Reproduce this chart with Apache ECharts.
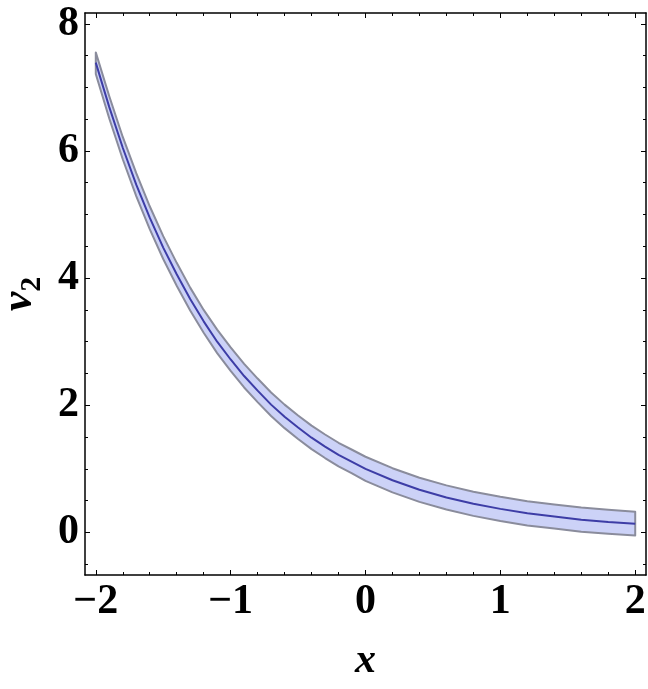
<!DOCTYPE html>
<html>
<head>
<meta charset="utf-8">
<script src="https://cdn.jsdelivr.net/npm/echarts@6/dist/echarts.min.js"></script>
<style>
  html, body { margin: 0; padding: 0; background: #fff; }
  #chart { width: 648px; height: 689px; }
</style>
</head>
<body>
<div id="chart"></div>
<script>
// values
const xs = [-2.0, -1.9, -1.8, -1.7, -1.6, -1.5, -1.4, -1.3, -1.2, -1.1, -1.0, -0.9, -0.8, -0.7, -0.6, -0.5, -0.4, -0.3, -0.2, -0.1,
  0, 0.2, 0.4, 0.6, 0.8, 1.0, 1.2, 1.4, 1.6, 1.8, 2.0];
const center = [7.39, 6.69, 6.05, 5.47, 4.95, 4.48, 4.06, 3.67, 3.32, 3.00, 2.72, 2.46, 2.23, 2.01, 1.82, 1.65, 1.49, 1.35, 1.22, 1.11,
  1.00, 0.82, 0.67, 0.55, 0.45, 0.37, 0.30, 0.25, 0.20, 0.165, 0.135];
const upper = [7.55, 6.86, 6.22, 5.65, 5.13, 4.66, 4.24, 3.85, 3.50, 3.19, 2.91, 2.65, 2.42, 2.20, 2.01, 1.84, 1.68, 1.54, 1.41, 1.30,
  1.19, 1.01, 0.86, 0.74, 0.64, 0.56, 0.49, 0.44, 0.39, 0.355, 0.325];
const lower = [7.21, 6.51, 5.87, 5.29, 4.77, 4.30, 3.88, 3.49, 3.14, 2.82, 2.54, 2.28, 2.05, 1.83, 1.64, 1.47, 1.31, 1.17, 1.04, 0.93,
  0.81, 0.63, 0.48, 0.36, 0.26, 0.18, 0.11, 0.06, 0.01, -0.02, -0.05];

const xTicks = [-2, -1, 0, 1, 2];
const xMinorTicks = [-1.8, -1.6, -1.4, -1.2, -0.8, -0.6, -0.4, -0.2, 0.2, 0.4, 0.6, 0.8, 1.2, 1.4, 1.6, 1.8];
const yTicks = [0, 2, 4, 6, 8];
const yMinorTicks = [-0.5, 0.5, 1, 1.5, 2.5, 3, 3.5, 4.5, 5, 5.5, 6.5, 7, 7.5];

const X_MIN = -2.08, X_MAX = 2.08;
const Y_MIN = -0.67, Y_MAX = 8.17;

const font = '"Liberation Serif", "Times New Roman", Times, serif';
const labelStyle = { fontFamily: font, fontWeight: 'bold', fontSize: 42, color: '#000' };
const fmt = v => (v < 0 ? '\u2212' + Math.abs(v) : String(v));

function makeAxis (pos, ticks, minor, isMajor, showLabel, min, max) {
  return {
    type: 'value',
    position: pos,
    min: min,
    max: max,
    axisLine: { show: isMajor, onZero: false, lineStyle: { color: '#000', width: 1.5 } },
    axisTick: {
      show: true, inside: true, length: isMajor ? 5 : 3,
      lineStyle: { color: '#000', width: 1 },
      customValues: isMajor ? ticks : minor
    },
    axisLabel: Object.assign({
      show: showLabel, customValues: ticks, formatter: fmt, margin: 6
    }, labelStyle),
    splitLine: { show: false }
  };
}

let chart = echarts.init(document.getElementById('chart'));

let xAxes = [
  makeAxis('bottom', xTicks, xMinorTicks, true, true, X_MIN, X_MAX),
  makeAxis('bottom', xTicks, xMinorTicks, false, false, X_MIN, X_MAX),
  makeAxis('top', xTicks, xMinorTicks, true, false, X_MIN, X_MAX),
  makeAxis('top', xTicks, xMinorTicks, false, false, X_MIN, X_MAX)
];
xAxes[0].name = 'x';
xAxes[0].nameLocation = 'middle';
xAxes[0].nameGap = 65;
xAxes[0].nameTextStyle = { fontFamily: font, fontWeight: 'bold', fontStyle: 'italic', fontSize: 42, color: '#000' };

let yAxes = [
  makeAxis('left', yTicks, yMinorTicks, true, true, Y_MIN, Y_MAX),
  makeAxis('left', yTicks, yMinorTicks, false, false, Y_MIN, Y_MAX),
  makeAxis('right', yTicks, yMinorTicks, true, false, Y_MIN, Y_MAX),
  makeAxis('right', yTicks, yMinorTicks, false, false, Y_MIN, Y_MAX)
];
yAxes[0].name = '{v|v}{s|2}';
yAxes[0].nameLocation = 'middle';
yAxes[0].nameRotate = 90;
yAxes[0].nameGap = 33;
yAxes[0].nameTextStyle = {
  rich: {
    v: { fontFamily: font, fontWeight: 'bold', fontStyle: 'italic', fontSize: 44, color: '#000' },
    s: { fontFamily: font, fontWeight: 'bold', fontSize: 30, color: '#000', padding: [24, 0, 0, 0] }
  }
};

let option = {
  animation: false,
  backgroundColor: '#fff',
  grid: { left: 85, right: 2, top: 13, bottom: 114, containLabel: false, outerBoundsMode: 'none' },
  xAxis: xAxes,
  yAxis: yAxes,
  series: [
    {
      // uncertainty band
      type: 'custom',
      xAxisIndex: 0,
      yAxisIndex: 0,
      silent: true,
      data: [[0, 0]],
      renderItem: function (params, api) {
        let pts = [];
        for (let i = 0; i < xs.length; i++) pts.push(api.coord([xs[i], upper[i]]));
        for (let i = xs.length - 1; i >= 0; i--) pts.push(api.coord([xs[i], lower[i]]));
        return {
          type: 'polygon',
          shape: { points: pts },
          style: { fill: '#ccd2f7', stroke: '#8a8c9c', lineWidth: 2, lineJoin: 'round' }
        };
      }
    },
    {
      type: 'line',
      xAxisIndex: 0,
      yAxisIndex: 0,
      showSymbol: false,
      silent: true,
      data: xs.map((x, i) => [x, center[i]]),
      lineStyle: { color: '#3d3da6', width: 2 }
    }
  ]
};

chart.setOption(option);
</script>
</body>
</html>
